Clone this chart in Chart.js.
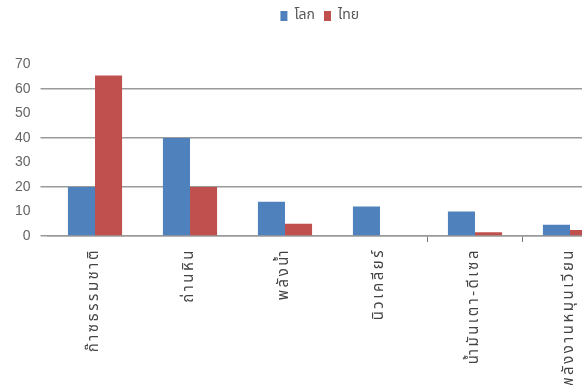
<!DOCTYPE html>
<html>
<head>
<meta charset="utf-8">
<script src="https://cdn.jsdelivr.net/npm/chart.js@4"></script>
<style>
    html, body { margin: 0; padding: 0; background: #fff; overflow: hidden; }
    #wrap { position: relative; width: 639px; height: 385px; }
</style>
</head>
<body>
<div id="wrap"><canvas id="grafico"></canvas></div>
<script>
const categorias = ['ก๊าซธรรมชาติ', 'ถ่านหิน', 'พลังน้ำ', 'นิวเคลียร์', 'น้ำมันเตา-ดีเซล', 'พลังงานหมุนเวียน'];
const valoresLoke = [20, 40, 14, 12, 10, 4.6];
const valoresThai = [65.5, 20, 5, 0, 1.5, 2.4];
const ticksY = [0, 10, 20, 30, 40, 50, 60, 70];

// espaçamento entre letras só nos rótulos do eixo x
const espacoRotulos = {
    id: 'espacoRotulos',
    beforeDraw(chart) {
        const xs = chart.scales.x;
        if (xs._espacado) return;
        const original = xs.drawLabels.bind(xs);
        xs.drawLabels = (area) => {
            chart.ctx.save();
            chart.ctx.letterSpacing = '2.5px';
            original(area);
            chart.ctx.restore();
        };
        xs._espacado = true;
    }
};

// legenda um pouco deslocada para a direita
const deslocaLegenda = {
    id: 'deslocaLegenda',
    afterLayout(chart) {
        chart.legend.left += 11;
        chart.legend.right += 11;
    }
};

function main() {
    const ctx = document.getElementById('grafico').getContext('2d');
    const cinza = '#9a9a9a';

    window.grafico = new Chart(ctx, {
        type: 'bar',
        data: {
            labels: categorias,
            datasets: [
                {
                    label: 'โลก',
                    data: valoresLoke,
                    backgroundColor: '#4f81bd',
                    categoryPercentage: 0.57,
                    barPercentage: 1.0
                },
                {
                    label: 'ไทย',
                    data: valoresThai,
                    backgroundColor: '#c0504d',
                    categoryPercentage: 0.57,
                    barPercentage: 1.0
                }
            ]
        },
        plugins: [espacoRotulos, deslocaLegenda],
        options: {
            animation: false,
            responsive: true,
            maintainAspectRatio: false,
            layout: { padding: { top: 0, right: 21.5, left: 0, bottom: 0 } },
            plugins: {
                legend: {
                    display: true,
                    position: 'top',
                    labels: {
                        boxWidth: 7,
                        boxHeight: 10,
                        padding: 9,
                        color: '#555',
                        font: { family: 'Noto Sans Thai, Noto Sans, sans-serif', size: 14 }
                    }
                },
                // espaço vazio entre a legenda e o gráfico
                subtitle: {
                    display: true,
                    text: '',
                    weight: 500,
                    font: { size: 10, lineHeight: 1 },
                    padding: { top: 21.5, bottom: 0 }
                },
                tooltip: { enabled: false }
            },
            scales: {
                x: {
                    grid: {
                        offset: true,
                        drawOnChartArea: false,
                        drawTicks: true,
                        tickLength: 6,
                        color: (c) => c.index >= 4 ? '#777' : 'rgba(0,0,0,0)'
                    },
                    border: { display: true, color: cinza, width: 1.5 },
                    ticks: {
                        minRotation: 90,
                        maxRotation: 90,
                        autoSkip: false,
                        padding: 6,
                        color: '#444',
                        font: { family: 'Noto Sans Thai, Noto Sans, sans-serif', size: 15 }
                    },
                    afterFit: (s) => { s.height = 149; }
                },
                y: {
                    min: 0,
                    max: 70,
                    afterBuildTicks: (s) => { s.ticks = ticksY.map(v => ({ value: v })); },
                    grid: {
                        drawTicks: true,
                        tickLength: 7,
                        lineWidth: 1.5,
                        color: (c) => (c.tick && c.tick.value % 20 === 0 && c.tick.value < 70) ? cinza : 'rgba(0,0,0,0)'
                    },
                    border: { display: false },
                    ticks: {
                        padding: 10,
                        color: '#666',
                        font: { family: 'Liberation Sans Narrow, Liberation Sans', size: 14 }
                    },
                    afterFit: (s) => { s.width = 47.5; }
                }
            }
        }
    });
}

window.addEventListener('DOMContentLoaded', main);
</script>
</body>
</html>
